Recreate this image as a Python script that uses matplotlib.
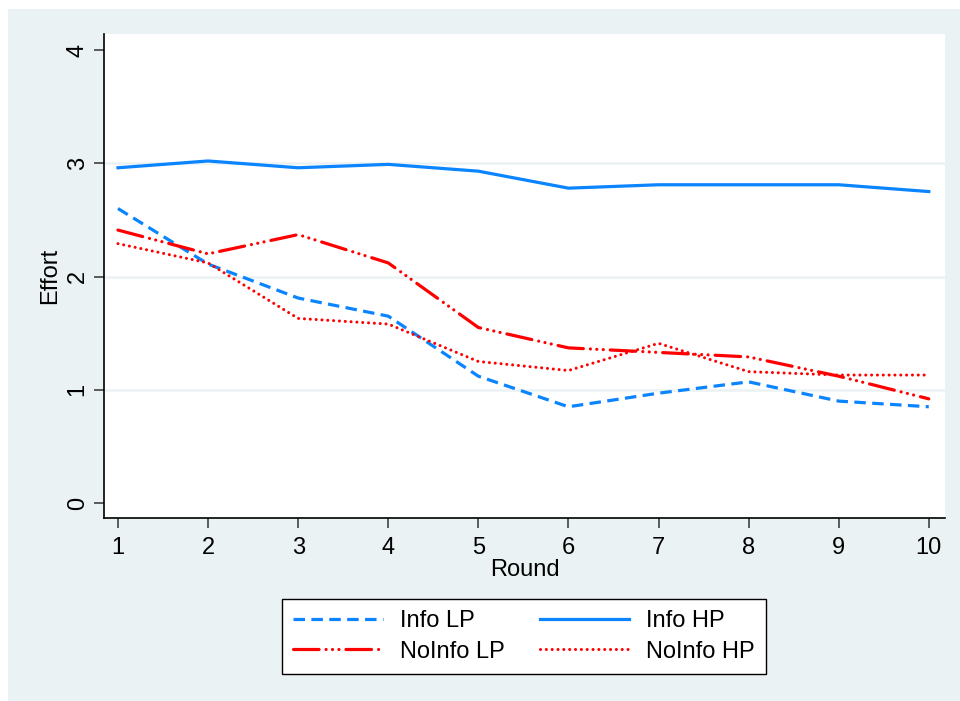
import numpy as np
import matplotlib.pyplot as plt
from matplotlib.patches import Rectangle

rounds = [1, 2, 3, 4, 5, 6, 7, 8, 9, 10]
info_lp = [2.60, 2.11, 1.81, 1.65, 1.12, 0.85, 0.97, 1.07, 0.90, 0.85]
info_hp = [2.96, 3.02, 2.96, 2.99, 2.93, 2.78, 2.81, 2.81, 2.81, 2.75]
noinfo_lp = [2.41, 2.20, 2.37, 2.12, 1.55, 1.37, 1.33, 1.29, 1.12, 0.92]
noinfo_hp = [2.29, 2.12, 1.63, 1.58, 1.25, 1.17, 1.41, 1.16, 1.13, 1.13]

BLUE = '#0A84FF'
RED = '#FF0000'
BG = '#EAF2F3'
FS = 17

plt.rcParams['font.family'] = ['Liberation Sans', 'DejaVu Sans']

fig = plt.figure(figsize=(9.6, 7.01), dpi=100)
fig.patch.set_facecolor('white')
# Stata-like outer panel, leaving a thin white strip at left and top
fig.patches.append(Rectangle((8 / 960, 0), 1, 1 - 9 / 701, transform=fig.transFigure,
                             facecolor=BG, edgecolor='none', zorder=-10))

ax = fig.add_axes([104 / 960, 1 - 518 / 701, (945 - 104) / 960, (518 - 34) / 701])
ax.set_facecolor('white')

for y in [1, 2, 3]:
    ax.axhline(y, color=BG, lw=1.8, zorder=1)

l1, = ax.plot(rounds, info_lp, color=BLUE, lw=2.3, ls=(0, (3.6, 2.0)), label='Info LP', zorder=3)
l2, = ax.plot(rounds, info_hp, color=BLUE, lw=2.3, ls='-', label='Info HP', zorder=3)
l3, = ax.plot(rounds, noinfo_lp, color=RED, lw=2.3,
              ls=(0, (8.0, 2.2, 0.01, 2.0, 0.01, 2.0, 0.01, 2.2)),
              dash_capstyle='round', label='NoInfo LP', zorder=3)
l4, = ax.plot(rounds, noinfo_hp, color=RED, lw=2.2, ls=(0, (0.01, 1.9)),
              dash_capstyle='round', label='NoInfo HP', zorder=3)

ax.set_xlim(0.845, 10.18)
ax.set_ylim(-0.132, 4.141)
ax.set_xticks(rounds)
ax.set_yticks([0, 1, 2, 3, 4])

for s in ['top', 'right']:
    ax.spines[s].set_visible(False)
for s in ['left', 'bottom']:
    ax.spines[s].set_color('black')
    ax.spines[s].set_linewidth(1.2)

ax.tick_params(axis='both', labelsize=FS, length=7, width=1.1, color='#333333', pad=7)
ax.tick_params(axis='y', pad=4)
for lab in ax.get_yticklabels():
    lab.set_rotation(90)
    lab.set_va('center')

ax.set_ylabel('Effort', fontsize=FS, labelpad=4)
ax.set_xlabel('Round', fontsize=FS, labelpad=0)

leg = fig.legend(handles=[l1, l3, l2, l4], loc='center', ncol=2,
                 bbox_to_anchor=(524 / 960, 1 - 636.5 / 701), fontsize=FS,
                 frameon=True, fancybox=False, edgecolor='black', framealpha=1,
                 handlelength=3.8, handletextpad=0.7, columnspacing=1.5,
                 borderpad=0.5, labelspacing=0.35)
leg.get_frame().set_linewidth(1.0)

fig.savefig('out.png', dpi=100, facecolor=fig.get_facecolor())
